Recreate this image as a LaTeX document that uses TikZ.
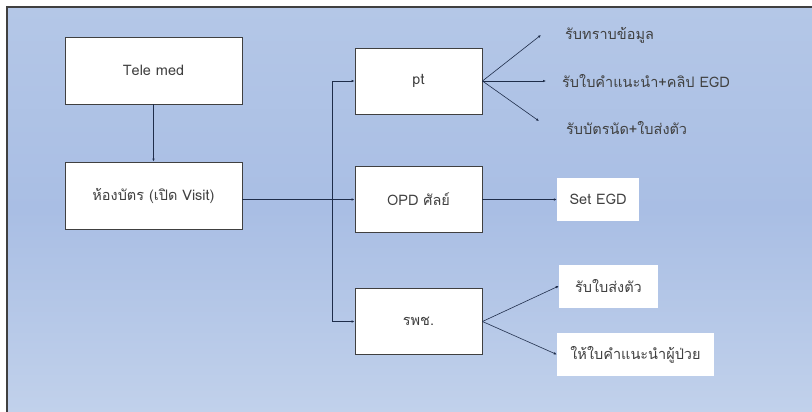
\documentclass[tikz,border=0pt]{standalone}
\usepackage{fontspec}
\setmainfont[Script=Thai]{Loma}
\usetikzlibrary{arrows.meta,positioning}
\definecolor{bgtop}{HTML}{B4C7E7}
\definecolor{bgmid}{HTML}{A9BEE4}
\definecolor{bgbot}{HTML}{C1D1EB}
\definecolor{edge}{HTML}{404040}
\definecolor{conn}{HTML}{1F2D4A}
\definecolor{txt}{HTML}{404040}
\tikzset{
  tfont/.style={font=\fontsize{14.5}{17}\selectfont},
  box/.style={draw=edge, line width=0.9pt, fill=white, minimum width=177pt, minimum height=67pt, inner sep=0pt, text=txt, tfont},
  sbox/.style={draw=edge, line width=0.9pt, fill=white, minimum width=127pt, minimum height=66pt, inner sep=0pt, text=txt, tfont},
  wbox/.style={fill=white, inner sep=0pt, minimum height=43pt, text=txt, tfont},
  lbl/.style={inner sep=0pt, text=txt, tfont, anchor=west},
  arr/.style={draw=conn, line width=0.6pt, -{Latex[length=3pt,width=2.6pt]}},
}
\begin{document}
\begin{tikzpicture}[x=1pt,y=-1pt]
\useasboundingbox (0,0) rectangle (812,412);
\shade[top color=bgtop, bottom color=bgmid, shading angle=0] (7,7) rectangle (812,210);
\shade[top color=bgmid, bottom color=bgbot] (7,210) rectangle (812,412);
\draw[edge, line width=1.2pt] (7,412) -- (7,7) -- (812,7);

\node[box] (tele) at (153.5,70.5) {Tele med};
\node[box] (card) at (153.5,195.5) {ห้องบัตร (เปิด Visit)};
\node[sbox] (pt) at (418.5,81) {pt};
\node[sbox] (opd) at (418.5,199.5) {OPD ศัลย์};
\node[sbox] (rph) at (418.5,321.5) {รพช.};

\node[wbox, minimum width=82pt] (set) at (598,199.5) {Set EGD};
\node[wbox, minimum width=99pt] (refer) at (608.5,286) {รับใบส่งตัว};
\node[wbox, minimum width=157pt] (advice) at (635.5,354.5) {ให้ใบคำแนะนำผู้ป่วย};

\node[lbl] (l1) at (565,35) {รับทราบข้อมูล};
\node[lbl] (l2) at (562,81) {รับใบคำแนะนำ+คลิป EGD};
\node[lbl] (l3) at (566,128) {รับบัตรนัด+ใบส่งตัว};

\coordinate (j) at (332,199.5);
\coordinate (a1) at (541,35);
\coordinate (a2) at (546,81);
\coordinate (a3) at (539,121);

\draw[arr] (tele) -- (card);
\draw[arr] (card.east |- opd.west) -- (opd.west);
\draw[arr] (j) |- (pt.west);
\draw[arr] (j) |- (rph.west);
\draw[arr] (pt.east) -- (a1);
\draw[arr] (pt.east) -- (a2);
\draw[arr] (pt.east) -- (a3);
\draw[arr] (opd) -- (set);
\draw[arr] (rph.east) -- (refer.west);
\draw[arr] (rph.east) -- (advice.west);
\end{tikzpicture}
\end{document}
